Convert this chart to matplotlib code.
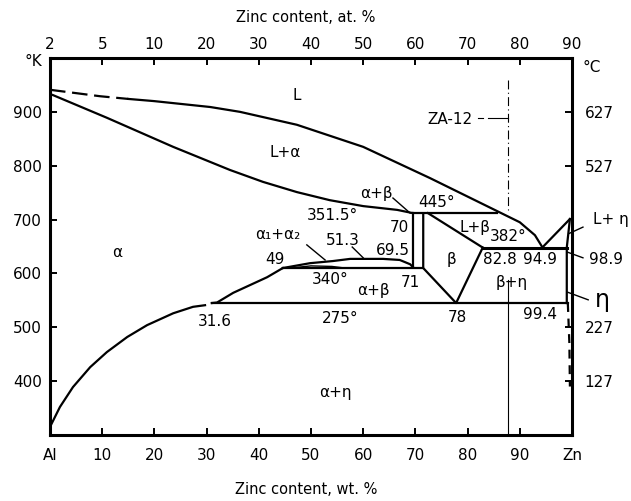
import matplotlib.pyplot as plt

# Al-Zn phase diagram, x = wt.% Zn, y = temperature in K
liq_dash_wt = [0, 9.6, 15.0]
liq_dash_T = [941, 929, 924]
liq_wt = [15.0, 19.9, 30.7, 36.4, 47.3, 60.0, 72.8, 85.6, 90.0, 92.9, 94.3]
liq_T = [924, 920, 909, 900, 876, 835, 777, 716, 695, 671, 649]

sol_wt = [0, 0.6, 10.9, 23.6, 34.5, 40.8, 47.3, 53.6, 60.0, 66.5, 69.5]
sol_T = [933, 931, 889, 835, 792, 770, 751, 736, 725, 718, 712]

solv_low_wt = [0, 1.9, 4.4, 7.7, 10.9, 14.8, 18.6, 23.6, 27.4, 29.7]
solv_low_T = [315, 352, 389, 426, 454, 482, 504, 526, 538, 541]
solv_up_wt = [31.0, 32.0, 35.1, 41.6, 44.6]
solv_up_T = [545, 546, 564, 593, 610]

dome_wt = [44.6, 49.8, 54.2, 57.5, 63.8, 67.0, 69.0, 69.5]
dome_T = [610, 619, 623, 627, 627, 625, 617, 612]
lens_wt = [46.0, 50.0, 54.0, 56.5]
lens_T = [610, 614, 613, 610]

T_peri = 712      # 445 C
T_eut = 648       # 382 C
T_mono = 610      # 340 C
T_eutd = 545      # 275 C

beta_left_wt = [71.5, 71.5, 77.8, 82.9]
beta_left_T = [712, 610, 545, 648]
beta_liq_wt = [72.4, 82.9]
beta_liq_T = [712, 648]
ab_left_wt = [69.5, 69.5]
ab_left_T = [712, 612]

eta_liq_wt = [94.3, 99.6]
eta_liq_T = [648, 701]
eta_sol_wt = [99.6, 99.0, 99.0]
eta_sol_T = [701, 648, 545]
eta_solv_wt = [99.2, 99.5, 99.6]
eta_solv_T = [545, 470, 390]

za12_wt = 87.7
za12_top = [960, 712]
za12_bot = [588, 300]

labels = [
    ("L", 47.3, 931), ("L+α", 45.0, 824), ("α", 12.8, 638),
    ("351.5°", 54.2, 708), ("α₁+α₂", 43.7, 672), ("51.3", 56.1, 662),
    ("69.5", 65.7, 643), ("49", 43.1, 625), ("340°", 53.6, 588),
    ("71", 69.0, 584), ("α+β", 61.9, 569), ("α+β", 62.6, 749),
    ("70", 67.0, 686), ("445°", 74.1, 731), ("L+β", 81.4, 686),
    ("382°", 87.7, 668), ("β", 77.0, 625), ("82.8", 86.2, 625),
    ("94.9", 93.9, 625), ("β+η", 88.5, 584), ("78", 78.0, 519),
    ("99.4", 93.9, 523), ("275°", 55.6, 517), ("31.6", 31.6, 510),
    ("α+η", 54.6, 378), ("ZA-12", 76.6, 885),
    ("L+ η", 107.5, 700), ("98.9", 106.6, 625),
]
pointers = [
    ((65.7, 740), (69.0, 712)), ((49.2, 653), (52.7, 625)),
    ((57.9, 649), (60.0, 629)), ((102.1, 686), (99.4, 674)),
    ((102.1, 629), (99.0, 640)), ((103.1, 551), (99.2, 565)),
]

bottom_ticks = [0, 10, 20, 30, 40, 50, 60, 70, 80, 90, 100]
bottom_labels = ["Al", "10", "20", "30", "40", "50", "60", "70", "80", "90", "Zn"]
top_labels = ["2", "5", "10", "20", "30", "40", "50", "60", "70", "80", "90"]
left_ticks = [400, 500, 600, 700, 800, 900]
right_ticks = [400, 500, 800, 900]
right_labels = ["127", "227", "527", "627"]

fig = plt.figure(figsize=(6.31, 5.01), dpi=100)
ax = fig.add_axes([50 / 631, 66 / 501, 522 / 631, 377 / 501])
ax.set_xlim(0, 100)
ax.set_ylim(300, 1000)

lw = 1.6
ax.plot(liq_dash_wt, liq_dash_T, color="k", lw=lw, dashes=(7, 3))
ax.plot(liq_wt, liq_T, color="k", lw=lw)
ax.plot(sol_wt, sol_T, color="k", lw=lw)
ax.plot(solv_low_wt, solv_low_T, color="k", lw=lw)
ax.plot(solv_up_wt, solv_up_T, color="k", lw=lw)
ax.plot(dome_wt, dome_T, color="k", lw=lw)
ax.plot(lens_wt, lens_T, color="k", lw=1.0)
ax.plot([69.5, 85.6], [T_peri, T_peri], color="k", lw=lw)
ax.plot([82.9, 99.0], [T_eut, T_eut], color="k", lw=2.2)
ax.plot([44.6, 71.5], [T_mono, T_mono], color="k", lw=lw)
ax.plot([31.0, 99.2], [T_eutd, T_eutd], color="k", lw=lw)
ax.plot(beta_left_wt, beta_left_T, color="k", lw=lw)
ax.plot(beta_liq_wt, beta_liq_T, color="k", lw=lw)
ax.plot(ab_left_wt, ab_left_T, color="k", lw=lw)
ax.plot(eta_liq_wt, eta_liq_T, color="k", lw=lw)
ax.plot(eta_sol_wt, eta_sol_T, color="k", lw=lw)
ax.plot(eta_solv_wt, eta_solv_T, color="k", lw=lw, dashes=(4, 3))
ax.plot([za12_wt, za12_wt], za12_top, color="k", lw=0.8, dashes=(8, 3, 1, 3))
ax.plot([za12_wt, za12_wt], za12_bot, color="k", lw=0.8)
ax.plot([82.0, 83.0], [889, 889], color="k", lw=0.8)
ax.plot([84.0, za12_wt], [889, 889], color="k", lw=0.8)

for txt, x, y in labels:
    ax.text(x, y, txt, fontsize=11, ha="center", va="center")
ax.text(105.8, 551, "η", fontsize=17, ha="center", va="center")
for (x0, y0), (x1, y1) in pointers:
    ax.plot([x0, x1], [y0, y1], color="k", lw=1.0, clip_on=False)

for s in ax.spines.values():
    s.set_linewidth(2.2)
ax.set_xticks(bottom_ticks, labels=bottom_labels)
ax.set_yticks(left_ticks)
ax.tick_params(axis="x", direction="in", length=5, width=1.4, labelsize=11, pad=9)
ax.tick_params(axis="y", direction="in", length=5, width=1.4, labelsize=11, pad=6)

top = ax.secondary_xaxis("top")
top.set_xticks(bottom_ticks, labels=top_labels)
top.tick_params(direction="in", length=5, width=1.4, labelsize=11, pad=4)
right = ax.secondary_yaxis("right")
right.set_yticks(right_ticks, labels=right_labels)
right.tick_params(direction="in", length=5, width=1.4, labelsize=11, pad=9)

fig.text(33 / 631, 1 - 62 / 501, "°K", fontsize=11, ha="center", va="center")
fig.text(592 / 631, 1 - 67 / 501, "°C", fontsize=11, ha="center", va="center")
fig.text(306 / 631, 1 - 18 / 501, "Zinc content, at. %", fontsize=10.5, ha="center", va="center")
fig.text(306 / 631, 1 - 490 / 501, "Zinc content, wt. %", fontsize=10.5, ha="center", va="center")

fig.savefig("out.png", dpi=100)
